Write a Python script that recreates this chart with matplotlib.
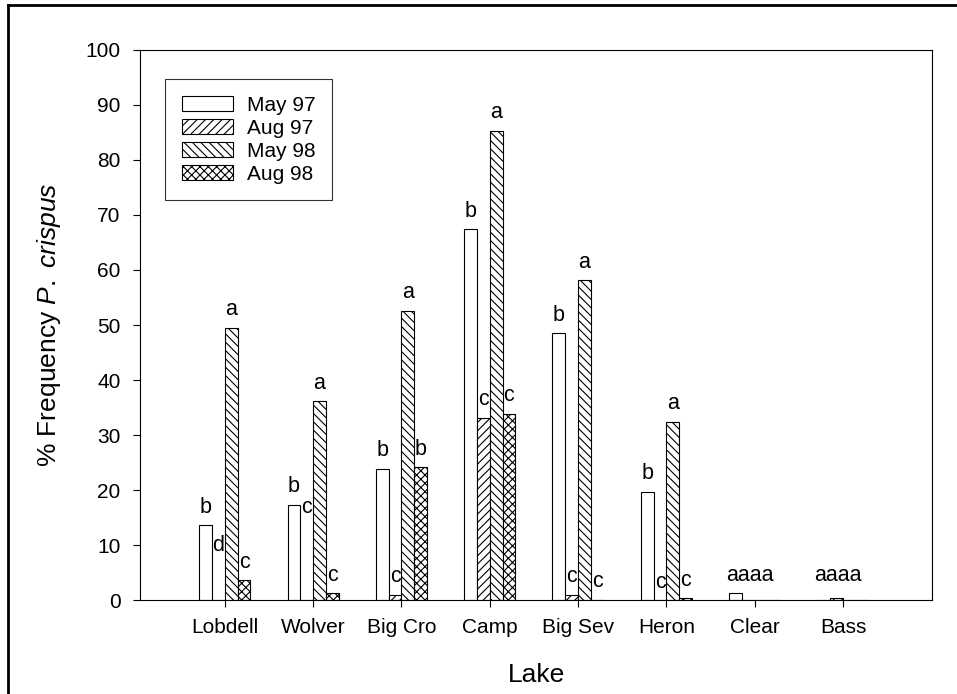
import numpy as np
import matplotlib
matplotlib.use("Agg")
import matplotlib.pyplot as plt
from matplotlib.lines import Line2D

plt.rcParams["font.family"] = ["Liberation Sans", "DejaVu Sans"]
plt.rcParams["mathtext.fontset"] = "custom"
plt.rcParams["mathtext.it"] = "Liberation Sans:italic"
plt.rcParams["mathtext.rm"] = "Liberation Sans"
plt.rcParams["hatch.linewidth"] = 0.8

lakes = ["Lobdell", "Wolver", "Big Cro", "Camp", "Big Sev", "Heron", "Clear", "Bass"]
series = ["May 97", "Aug 97", "May 98", "Aug 98"]
may97 = [13.6, 17.3, 23.8, 67.4, 48.5, 19.7, 1.2, 0.0]
aug97 = [0.0, 0.0, 1.0, 33.1, 0.9, 0.0, 0.0, 0.4]
may98 = [49.5, 36.1, 52.6, 85.3, 58.1, 32.4, 0.0, 0.0]
aug98 = [3.6, 1.2, 24.1, 33.9, 0.0, 0.3, 0.0, 0.0]
lab_may97 = ["b", "b", "b", "b", "b", "b", "", ""]
lab_aug97 = ["d", "c", "c", "c", "c", "c", "", ""]
lab_may98 = ["a", "a", "a", "a", "a", "a", "", ""]
lab_aug98 = ["c", "c", "b", "c", "c", "c", "", ""]
group_lab = ["", "", "", "", "", "", "aaaa", "aaaa"]

values = [may97, aug97, may98, aug98]
letters = [lab_may97, lab_aug97, lab_may98, lab_aug98]
hatches = ["", "////", "\\\\\\\\", "xxxx"]
# letters for empty bars that were set higher in the original
lift = {(0, 1): 10.0, (1, 1): 16.9, (5, 1): 3.1}

fig = plt.figure(figsize=(9.57, 6.94), dpi=100)
ax = fig.add_axes([0.1463, 0.1354, 0.8277, 0.7926])

x = np.arange(len(lakes))
w = 0.145
for j, (vals, h, nm) in enumerate(zip(values, hatches, series)):
    off = (j - 1.5) * w
    ax.bar(x + off, vals, w, facecolor="white", edgecolor="black", linewidth=0.8,
           hatch=h, label=nm)
    for i, v in enumerate(vals):
        t = letters[j][i]
        if not t:
            continue
        y = lift.get((i, j), v + 3.3)
        ax.text(x[i] + off, y, t, ha="center", va="center", fontsize=15.5)
for i, t in enumerate(group_lab):
    if t:
        ax.text(x[i] - 0.06, 4.4, t, ha="center", va="center", fontsize=15.5)

ax.set_xlim(-0.96, 7.0 + 89 / 88.3)
ax.set_ylim(0, 100)
ax.set_yticks(np.arange(0, 101, 10))
ax.set_xticks(x)
ax.set_xticklabels(lakes)
ax.tick_params(axis="both", labelsize=15, length=5, width=0.8, direction="out")
ax.tick_params(axis="x", pad=8)
ax.tick_params(axis="y", pad=9)
for s in ax.spines.values():
    s.set_linewidth(0.8)

ax.set_xlabel("Lake", fontsize=19, labelpad=19)
ax.set_ylabel(r"% Frequency $\it{P.\ crispus}$", fontsize=19, labelpad=16)

leg = ax.legend(loc="upper left", bbox_to_anchor=(0.0316, 0.947), fontsize=15, frameon=True,
                fancybox=False, edgecolor="black", handlelength=2.45, handleheight=0.72,
                labelspacing=0.19, borderpad=0.8, handletextpad=0.67, borderaxespad=0)
leg.get_frame().set_linewidth(0.8)

# outer frame of the scanned figure (top and left edges)
fig.add_artist(Line2D([0.008, 1.0], [0.993, 0.993], color="black", lw=2))
fig.add_artist(Line2D([0.008, 0.008], [0.0, 0.993], color="black", lw=2))

fig.savefig("out.png", dpi=100)
